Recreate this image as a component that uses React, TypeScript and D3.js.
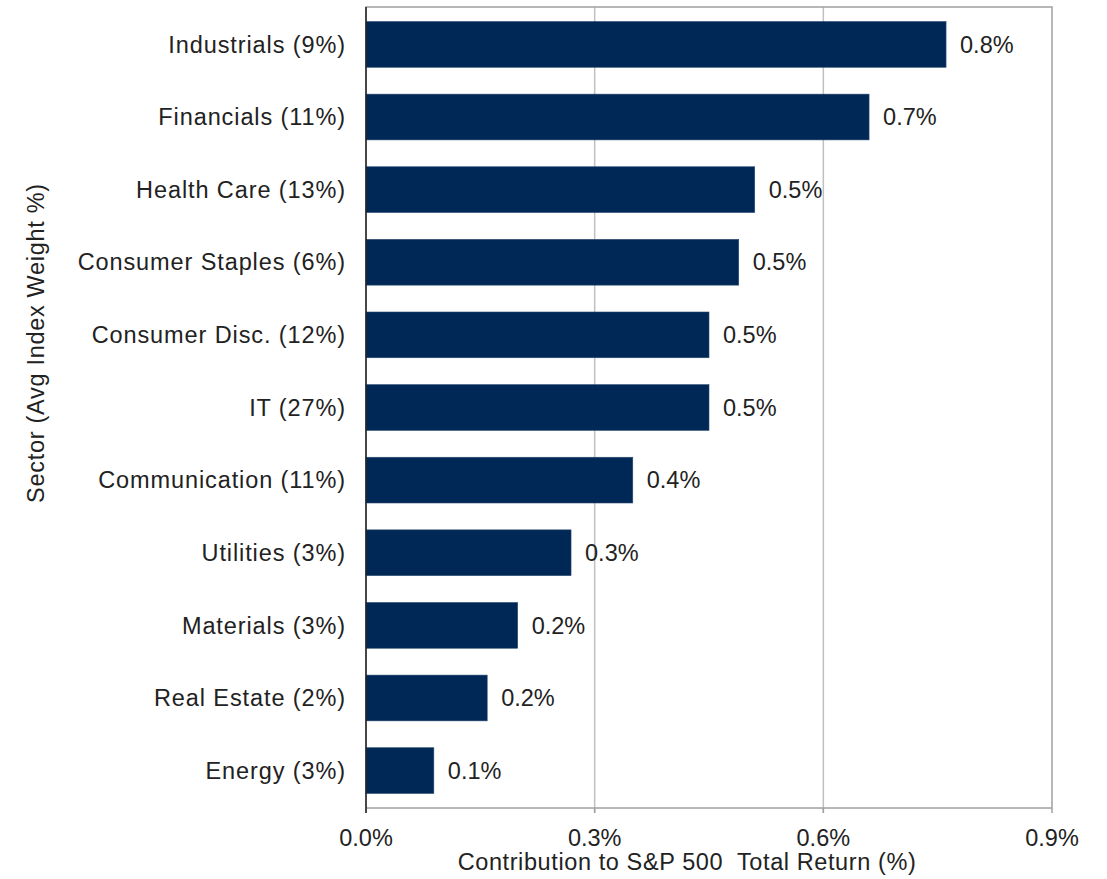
import * as d3 from 'd3';
import * as React from 'react';

const width = 1107;
const height = 879;
const margin = { top: 7, right: 55, bottom: 71, left: 366 };

const sectors = [
  'Industrials (9%)',
  'Financials (11%)',
  'Health Care (13%)',
  'Consumer Staples (6%)',
  'Consumer Disc. (12%)',
  'IT (27%)',
  'Communication (11%)',
  'Utilities (3%)',
  'Materials (3%)',
  'Real Estate (2%)',
  'Energy (3%)',
];

// contribution to total return, in %
const contributions = [0.761, 0.66, 0.51, 0.489, 0.45, 0.45, 0.35, 0.269, 0.199, 0.159, 0.089];

const valueLabels = ['0.8%', '0.7%', '0.5%', '0.5%', '0.5%', '0.5%', '0.4%', '0.3%', '0.2%', '0.2%', '0.1%'];

const xTicks = [0, 0.3, 0.6, 0.9];

const font = '"Liberation Sans", Arial, sans-serif';
const navy = '#002856';
const fs = 23.5;

export default () => {
  const x = d3
    .scaleLinear()
    .domain([0, 0.9])
    .range([margin.left, width - margin.right]);

  const y = d3
    .scaleBand()
    .domain(sectors)
    .range([margin.top, height - margin.bottom])
    .paddingInner(0.37)
    .paddingOuter(0.2);

  const plotBottom = height - margin.bottom;
  const fmt = d3.format('.1f');

  return (
    <div style={{ position: 'absolute', left: 0, top: 0 }}>
      <svg width={width} height={height} style={{ display: 'block', fontFamily: font }}>
        <rect width={width} height={height} fill="#fff" />
        {/* gridlines */}
        {xTicks.slice(1, -1).map(t => (
          <line key={t} x1={x(t)} x2={x(t)} y1={margin.top} y2={plotBottom + 5} stroke="#c0c0c0" strokeWidth={1.5} />
        ))}
        {/* plot frame */}
        <rect
          x={margin.left}
          y={margin.top}
          width={x(0.9) - margin.left}
          height={plotBottom - margin.top}
          fill="none"
          stroke="#a0a0a0"
          strokeWidth={1.5}
        />
        {xTicks.map(t => (
          <line key={`t${t}`} x1={x(t)} x2={x(t)} y1={plotBottom} y2={plotBottom + 5} stroke="#a0a0a0" strokeWidth={1.5} />
        ))}
        {/* bars */}
        {sectors.map((s, i) => (
          <rect
            key={s}
            x={x(0)}
            y={y(s)}
            width={x(contributions[i]) - x(0)}
            height={y.bandwidth()}
            fill={navy}
            stroke="#2a4a70"
            strokeWidth={0.6}
          />
        ))}
        <line x1={x(0)} x2={x(0)} y1={margin.top} y2={plotBottom + 5} stroke="#222" strokeWidth={1.5} />
        {/* value labels */}
        {sectors.map((s, i) => (
          <text
            key={`v${s}`}
            x={x(contributions[i]) + 14}
            y={(y(s) as number) + y.bandwidth() / 2}
            dy="0.35em"
            fontSize={fs}
            fill="#222"
          >
            {valueLabels[i]}
          </text>
        ))}
        {/* category labels */}
        {sectors.map(s => (
          <text
            key={`c${s}`}
            x={margin.left - 20}
            y={(y(s) as number) + y.bandwidth() / 2}
            dy="0.35em"
            textAnchor="end"
            fontSize={fs}
            letterSpacing={0.9}
            fill="#222"
          >
            {s}
          </text>
        ))}
        {/* x tick labels */}
        {xTicks.map(t => (
          <text key={`l${t}`} x={x(t)} y={plotBottom + 30} dy="0.35em" textAnchor="middle" fontSize={fs} fill="#222">
            {fmt(t)}%
          </text>
        ))}
        <text
          x={687}
          y={plotBottom + 54}
          dy="0.35em"
          textAnchor="middle"
          fontSize={fs}
          letterSpacing={0.6}
          fill="#222"
        >
          {'Contribution to S&P 500\u00a0 Total Return (%)'}
        </text>
        <text
          transform={`translate(36,343) rotate(-90)`}
          dy="0.35em"
          textAnchor="middle"
          fontSize={fs}
          letterSpacing={0.7}
          fill="#222"
        >
          Sector (Avg Index Weight %)
        </text>
      </svg>
    </div>
  );
};
